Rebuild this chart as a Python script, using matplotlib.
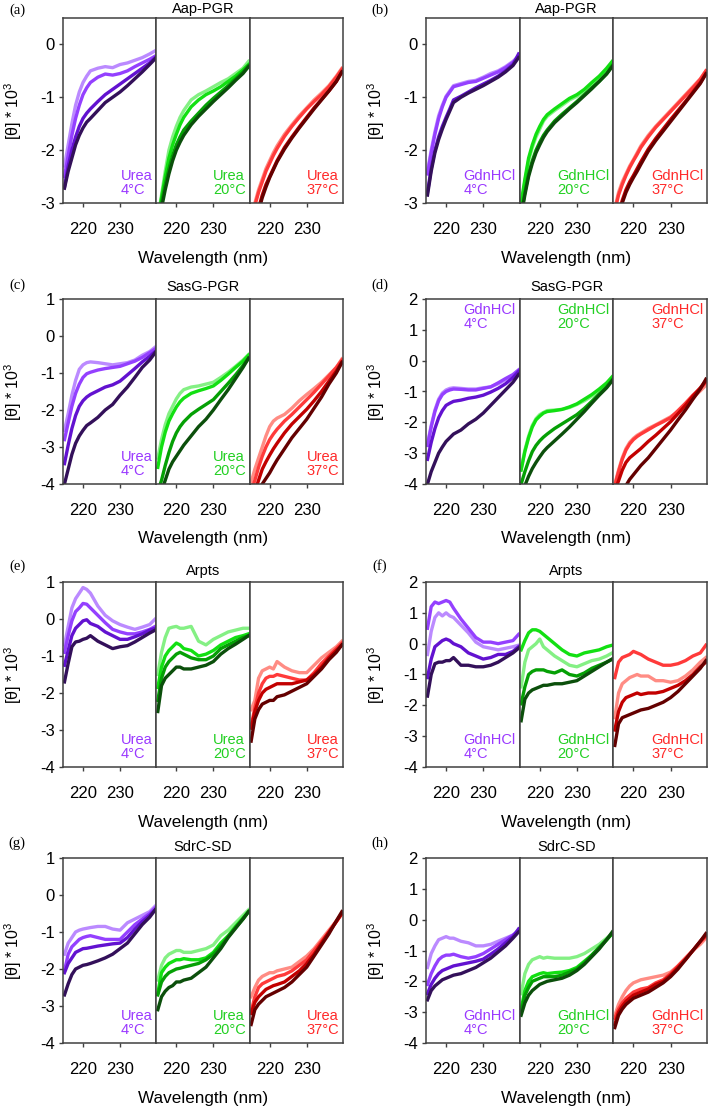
import matplotlib

matplotlib.use("Agg")
import matplotlib.pyplot as plt

plt.rcParams["font.family"] = ["Liberation Sans", "DejaVu Sans"]
plt.rcParams["mathtext.fontset"] = "custom"
plt.rcParams["mathtext.rm"] = "Liberation Sans"
plt.rcParams["mathtext.it"] = "Liberation Sans:italic"
plt.rcParams["axes.unicode_minus"] = False

# wavelength grid (nm) shared by every trace
WL = [215, 216, 217, 218, 219, 220, 221, 222, 224, 226, 228, 230, 232, 234, 236, 238, 239.5]
TEMPS = ["4°C", "20°C", "37°C"]

# each entry: [lightest, bright, medium, darkest] trace, values in [θ]*10^3
AAP_UREA_4 = [
    [-2.3, -1.9, -1.5, -1.15, -0.9, -0.72, -0.6, -0.5, -0.45, -0.42, -0.44, -0.38, -0.35, -0.3, -0.25, -0.18, -0.12],
    [-2.5, -2.1, -1.72, -1.4, -1.15, -0.95, -0.82, -0.72, -0.62, -0.56, -0.58, -0.55, -0.5, -0.42, -0.35, -0.28, -0.22],
    [-2.7, -2.3, -2.0, -1.75, -1.55, -1.4, -1.3, -1.22, -1.08, -0.95, -0.85, -0.75, -0.65, -0.55, -0.45, -0.35, -0.25],
    [-2.72, -2.4, -2.15, -1.9, -1.72, -1.58, -1.47, -1.4, -1.25, -1.1, -1.0, -0.9, -0.78, -0.65, -0.52, -0.38, -0.27],
]
AAP_UREA_20 = [
    [-3.3, -2.85, -2.4, -2.0, -1.75, -1.55, -1.38, -1.25, -1.05, -0.95, -0.88, -0.8, -0.72, -0.65, -0.55, -0.45, -0.32],
    [-3.3, -2.9, -2.5, -2.15, -1.9, -1.7, -1.52, -1.38, -1.18, -1.05, -0.95, -0.88, -0.8, -0.7, -0.6, -0.48, -0.38],
    [-3.4, -3.0, -2.65, -2.35, -2.1, -1.9, -1.75, -1.62, -1.45, -1.3, -1.15, -1.02, -0.9, -0.78, -0.65, -0.52, -0.4],
    [-3.5, -3.1, -2.75, -2.45, -2.2, -2.0, -1.85, -1.72, -1.52, -1.36, -1.22, -1.08, -0.95, -0.82, -0.68, -0.55, -0.42],
]
AAP_UREA_37 = [
    [-3.4, -3.0, -2.75, -2.55, -2.35, -2.2, -2.05, -1.92, -1.7, -1.52, -1.35, -1.2, -1.05, -0.92, -0.78, -0.6, -0.45],
    [-3.4, -3.05, -2.8, -2.6, -2.4, -2.25, -2.1, -1.97, -1.74, -1.55, -1.38, -1.22, -1.08, -0.95, -0.8, -0.62, -0.47],
    [-3.8, -3.4, -3.1, -2.85, -2.65, -2.5, -2.35, -2.2, -1.95, -1.75, -1.56, -1.38, -1.2, -1.04, -0.88, -0.7, -0.52],
    [-3.85, -3.45, -3.15, -2.9, -2.7, -2.52, -2.37, -2.22, -1.98, -1.77, -1.58, -1.4, -1.22, -1.05, -0.88, -0.7, -0.52],
]

AAP_GDN_4 = [
    [-2.4, -2.0, -1.65, -1.35, -1.15, -0.98, -0.88, -0.78, -0.74, -0.7, -0.68, -0.62, -0.55, -0.5, -0.42, -0.32, -0.22],
    [-2.45, -2.05, -1.7, -1.4, -1.18, -1.0, -0.9, -0.8, -0.76, -0.72, -0.7, -0.64, -0.58, -0.52, -0.44, -0.34, -0.24],
    [-2.8, -2.35, -2.0, -1.75, -1.55, -1.38, -1.22, -1.05, -0.98, -0.9, -0.82, -0.75, -0.68, -0.6, -0.5, -0.38, -0.18],
    [-2.85, -2.4, -2.05, -1.8, -1.6, -1.42, -1.26, -1.1, -1.0, -0.92, -0.85, -0.78, -0.7, -0.62, -0.52, -0.4, -0.25],
]
AAP_GDN_20 = [
    [-3.05, -2.6, -2.2, -1.95, -1.75, -1.6, -1.45, -1.36, -1.25, -1.15, -1.05, -0.98, -0.88, -0.78, -0.65, -0.5, -0.38],
    [-3.0, -2.55, -2.15, -1.9, -1.7, -1.55, -1.42, -1.33, -1.22, -1.12, -1.02, -0.95, -0.85, -0.72, -0.6, -0.45, -0.32],
    [-3.2, -2.8, -2.45, -2.2, -2.0, -1.85, -1.72, -1.62, -1.45, -1.32, -1.2, -1.08, -0.95, -0.82, -0.7, -0.55, -0.4],
    [-3.25, -2.85, -2.5, -2.25, -2.05, -1.9, -1.76, -1.65, -1.48, -1.35, -1.22, -1.1, -0.97, -0.84, -0.7, -0.56, -0.42],
]
AAP_GDN_37 = [
    [-3.1, -2.8, -2.6, -2.45, -2.3, -2.18, -2.05, -1.92, -1.72, -1.55, -1.4, -1.25, -1.1, -0.95, -0.8, -0.65, -0.5],
    [-3.15, -2.85, -2.65, -2.48, -2.33, -2.2, -2.08, -1.95, -1.75, -1.57, -1.42, -1.27, -1.12, -0.97, -0.82, -0.66, -0.5],
    [-3.6, -3.2, -2.95, -2.75, -2.6, -2.48, -2.35, -2.22, -1.98, -1.78, -1.6, -1.42, -1.25, -1.08, -0.9, -0.72, -0.55],
    [-3.7, -3.3, -3.0, -2.8, -2.65, -2.52, -2.4, -2.27, -2.02, -1.82, -1.64, -1.46, -1.28, -1.1, -0.92, -0.74, -0.56],
]

SASG_UREA_4 = [
    [-2.55, -2.1, -1.6, -1.2, -0.9, -0.78, -0.72, -0.7, -0.72, -0.75, -0.78, -0.75, -0.72, -0.65, -0.52, -0.42, -0.3],
    [-2.8, -2.35, -1.9, -1.55, -1.3, -1.12, -1.02, -0.98, -0.92, -0.88, -0.85, -0.82, -0.75, -0.68, -0.58, -0.45, -0.35],
    [-3.45, -2.95, -2.5, -2.15, -1.9, -1.75, -1.65, -1.58, -1.48, -1.38, -1.32, -1.22, -1.05, -0.88, -0.7, -0.55, -0.42],
    [-4.0, -3.6, -3.2, -2.9, -2.7, -2.55, -2.42, -2.35, -2.2, -2.0, -1.85, -1.6, -1.38, -1.12, -0.85, -0.65, -0.45],
]
SASG_UREA_20 = [
    [-3.3, -2.8, -2.4, -2.1, -1.9, -1.7, -1.55, -1.45, -1.38, -1.35, -1.3, -1.25, -1.12, -0.98, -0.82, -0.65, -0.5],
    [-3.55, -3.0, -2.6, -2.3, -2.1, -1.92, -1.78, -1.68, -1.55, -1.48, -1.42, -1.35, -1.2, -1.03, -0.85, -0.68, -0.52],
    [-4.2, -3.9, -3.5, -3.15, -2.85, -2.62, -2.45, -2.32, -2.12, -1.98, -1.85, -1.72, -1.5, -1.28, -1.05, -0.8, -0.6],
    [-4.5, -4.2, -3.9, -3.6, -3.4, -3.25, -3.1, -2.95, -2.7, -2.45, -2.25, -2.0, -1.72, -1.45, -1.15, -0.85, -0.6],
]
SASG_UREA_37 = [
    [-3.95, -3.6, -3.3, -3.0, -2.7, -2.45, -2.3, -2.22, -2.12, -1.95, -1.75, -1.58, -1.42, -1.25, -1.05, -0.85, -0.62],
    [-4.2, -3.9, -3.55, -3.25, -3.0, -2.8, -2.65, -2.52, -2.3, -2.12, -1.92, -1.72, -1.52, -1.3, -1.08, -0.85, -0.65],
    [-4.5, -4.2, -3.9, -3.6, -3.4, -3.22, -3.05, -2.9, -2.62, -2.38, -2.18, -1.98, -1.75, -1.5, -1.22, -0.95, -0.7],
    [-4.7, -4.5, -4.25, -4.0, -3.85, -3.7, -3.52, -3.35, -3.05, -2.75, -2.5, -2.25, -1.95, -1.65, -1.3, -1.0, -0.72],
]

SASG_GDN_4 = [
    [-2.7, -2.1, -1.6, -1.25, -1.05, -0.95, -0.9, -0.88, -0.9, -0.92, -0.92, -0.88, -0.85, -0.75, -0.62, -0.5, -0.4],
    [-2.75, -2.15, -1.65, -1.3, -1.1, -1.0, -0.95, -0.92, -0.93, -0.95, -0.95, -0.9, -0.85, -0.72, -0.58, -0.45, -0.3],
    [-3.2, -2.65, -2.2, -1.85, -1.62, -1.45, -1.38, -1.32, -1.28, -1.22, -1.18, -1.12, -1.02, -0.9, -0.75, -0.55, -0.35],
    [-4.0, -3.6, -3.3, -3.0, -2.8, -2.62, -2.5, -2.38, -2.25, -2.05, -1.9, -1.7, -1.45, -1.2, -0.95, -0.7, -0.45],
]
SASG_GDN_20 = [
    [-3.5, -2.9, -2.45, -2.1, -1.88, -1.75, -1.68, -1.62, -1.6, -1.58, -1.52, -1.42, -1.3, -1.15, -0.98, -0.8, -0.6],
    [-3.55, -2.95, -2.5, -2.15, -1.92, -1.8, -1.7, -1.65, -1.62, -1.58, -1.5, -1.4, -1.25, -1.1, -0.92, -0.72, -0.52],
    [-4.0, -3.6, -3.25, -2.95, -2.75, -2.6, -2.48, -2.38, -2.2, -2.05, -1.9, -1.75, -1.55, -1.32, -1.08, -0.85, -0.62],
    [-4.4, -4.05, -3.75, -3.5, -3.3, -3.12, -2.95, -2.82, -2.6, -2.38, -2.15, -1.9, -1.65, -1.38, -1.12, -0.88, -0.65],
]
SASG_GDN_37 = [
    [-4.0, -3.55, -3.15, -2.85, -2.65, -2.52, -2.42, -2.35, -2.2, -2.08, -1.95, -1.82, -1.65, -1.45, -1.2, -0.98, -0.8],
    [-4.05, -3.6, -3.2, -2.9, -2.7, -2.56, -2.46, -2.38, -2.24, -2.1, -1.98, -1.85, -1.62, -1.38, -1.12, -0.9, -0.7],
    [-4.2, -3.9, -3.55, -3.3, -3.15, -3.05, -2.95, -2.85, -2.62, -2.42, -2.2, -1.98, -1.72, -1.45, -1.15, -0.88, -0.65],
    [-4.8, -4.5, -4.25, -4.05, -3.85, -3.7, -3.55, -3.4, -3.15, -2.85, -2.55, -2.25, -1.92, -1.6, -1.25, -0.92, -0.6],
]

ARPTS_UREA_4 = [
    [-0.7, -0.2, 0.3, 0.55, 0.7, 0.85, 0.8, 0.7, 0.35, 0.1, -0.05, -0.15, -0.22, -0.28, -0.22, -0.15, 0.0],
    [-0.9, -0.45, -0.05, 0.2, 0.3, 0.42, 0.4, 0.3, 0.1, -0.1, -0.28, -0.35, -0.4, -0.4, -0.35, -0.28, -0.2],
    [-1.25, -0.85, -0.45, -0.25, -0.15, -0.05, -0.02, -0.12, -0.2, -0.35, -0.45, -0.55, -0.55, -0.48, -0.4, -0.3, -0.25],
    [-1.7, -1.2, -0.75, -0.62, -0.6, -0.55, -0.52, -0.45, -0.6, -0.7, -0.8, -0.75, -0.72, -0.62, -0.5, -0.38, -0.3],
]
ARPTS_UREA_20 = [
    [-1.5, -0.9, -0.5, -0.25, -0.22, -0.2, -0.25, -0.25, -0.2, -0.6, -0.7, -0.55, -0.45, -0.35, -0.3, -0.25, -0.25],
    [-1.85, -1.3, -1.0, -0.85, -0.75, -0.65, -0.7, -0.8, -0.85, -1.0, -0.95, -0.85, -0.7, -0.6, -0.5, -0.45, -0.4],
    [-2.2, -1.6, -1.3, -1.15, -1.05, -0.95, -0.9, -0.95, -1.05, -1.1, -1.1, -1.0, -0.8, -0.7, -0.6, -0.5, -0.45],
    [-2.5, -1.8, -1.6, -1.5, -1.4, -1.3, -1.3, -1.35, -1.35, -1.3, -1.25, -1.15, -0.95, -0.8, -0.68, -0.55, -0.45],
]
ARPTS_UREA_37 = [
    [-2.45, -2.2, -1.6, -1.4, -1.35, -1.3, -1.35, -1.15, -1.3, -1.4, -1.45, -1.45, -1.25, -1.05, -0.9, -0.75, -0.6],
    [-2.9, -2.4, -2.0, -1.75, -1.6, -1.55, -1.55, -1.5, -1.55, -1.6, -1.65, -1.65, -1.45, -1.2, -1.0, -0.8, -0.65],
    [-2.95, -2.5, -2.2, -2.0, -1.9, -1.85, -1.8, -1.75, -1.75, -1.75, -1.7, -1.65, -1.5, -1.3, -1.05, -0.85, -0.7],
    [-3.3, -2.7, -2.45, -2.3, -2.25, -2.2, -2.2, -2.1, -2.05, -1.95, -1.85, -1.75, -1.55, -1.35, -1.1, -0.9, -0.7],
]

ARPTS_GDN_4 = [
    [-0.35, 0.4, 0.85, 1.0, 0.9, 1.0, 0.9, 0.85, 0.6, 0.35, 0.05, -0.1, -0.15, -0.2, -0.15, -0.1, -0.05],
    [0.5, 1.2, 1.35, 1.3, 1.35, 1.4, 1.35, 1.15, 0.8, 0.5, 0.2, 0.05, 0.05, 0.0, 0.05, 0.1, 0.3],
    [-1.1, -0.5, -0.1, 0.0, 0.1, 0.15, 0.1, 0.0, -0.1, -0.3, -0.4, -0.5, -0.45, -0.35, -0.35, -0.25, -0.1],
    [-1.7, -1.0, -0.65, -0.6, -0.6, -0.55, -0.55, -0.45, -0.7, -0.7, -0.75, -0.75, -0.7, -0.6, -0.45, -0.3, -0.15],
]
ARPTS_GDN_20 = [
    [-1.4, -0.6, -0.2, -0.1, 0.0, 0.15, -0.1, -0.2, -0.4, -0.55, -0.7, -0.75, -0.65, -0.55, -0.5, -0.4, -0.3],
    [-0.2, 0.1, 0.35, 0.45, 0.45, 0.4, 0.3, 0.2, 0.0, -0.2, -0.35, -0.4, -0.3, -0.25, -0.2, -0.1, -0.05],
    [-1.95, -1.4, -1.0, -0.9, -0.85, -0.85, -0.85, -0.9, -0.95, -0.85, -1.0, -1.05, -0.95, -0.8, -0.7, -0.6, -0.5],
    [-2.5, -1.8, -1.6, -1.5, -1.45, -1.4, -1.35, -1.35, -1.3, -1.3, -1.25, -1.2, -1.05, -0.9, -0.75, -0.6, -0.5],
]
ARPTS_GDN_37 = [
    [-2.4, -1.6, -1.3, -1.2, -1.1, -1.05, -1.0, -1.05, -1.05, -1.2, -1.2, -1.25, -1.2, -1.05, -0.85, -0.6, -0.45],
    [-1.1, -0.6, -0.45, -0.4, -0.35, -0.25, -0.3, -0.35, -0.5, -0.6, -0.7, -0.7, -0.65, -0.55, -0.4, -0.3, -0.05],
    [-2.8, -2.2, -1.9, -1.75, -1.7, -1.65, -1.6, -1.65, -1.6, -1.6, -1.55, -1.45, -1.35, -1.2, -1.0, -0.75, -0.6],
    [-3.3, -2.6, -2.4, -2.35, -2.3, -2.25, -2.2, -2.15, -2.1, -2.0, -1.9, -1.75, -1.55, -1.3, -1.05, -0.8, -0.55],
]

SDRC_UREA_4 = [
    [-1.6, -1.3, -1.15, -1.0, -0.95, -0.92, -0.9, -0.88, -0.85, -0.85, -0.92, -0.95, -0.75, -0.65, -0.55, -0.45, -0.3],
    [-2.05, -1.6, -1.4, -1.3, -1.2, -1.15, -1.12, -1.1, -1.15, -1.2, -1.2, -1.2, -1.0, -0.8, -0.65, -0.5, -0.35],
    [-2.1, -1.85, -1.7, -1.55, -1.5, -1.45, -1.44, -1.42, -1.38, -1.35, -1.32, -1.3, -1.15, -0.92, -0.72, -0.55, -0.4],
    [-2.7, -2.4, -2.15, -2.0, -1.95, -1.9, -1.88, -1.85, -1.78, -1.7, -1.6, -1.45, -1.3, -1.05, -0.8, -0.6, -0.4],
]
SDRC_UREA_20 = [
    [-2.3, -1.9, -1.7, -1.6, -1.55, -1.5, -1.5, -1.55, -1.55, -1.5, -1.45, -1.35, -1.1, -0.95, -0.75, -0.55, -0.4],
    [-2.65, -2.1, -1.95, -1.85, -1.8, -1.75, -1.75, -1.72, -1.75, -1.75, -1.7, -1.55, -1.3, -1.1, -0.85, -0.62, -0.45],
    [-2.7, -2.35, -2.2, -2.1, -2.05, -2.0, -1.98, -1.95, -1.9, -1.85, -1.75, -1.6, -1.38, -1.12, -0.88, -0.65, -0.45],
    [-3.1, -2.75, -2.6, -2.5, -2.45, -2.35, -2.35, -2.3, -2.25, -2.1, -1.95, -1.7, -1.45, -1.15, -0.9, -0.65, -0.45],
]
SDRC_UREA_37 = [
    [-2.75, -2.5, -2.3, -2.2, -2.15, -2.1, -2.1, -2.05, -2.0, -1.95, -1.8, -1.65, -1.45, -1.2, -0.95, -0.7, -0.5],
    [-3.15, -2.75, -2.5, -2.4, -2.35, -2.3, -2.25, -2.2, -2.15, -2.05, -1.9, -1.75, -1.5, -1.25, -1.0, -0.72, -0.5],
    [-3.2, -2.9, -2.75, -2.65, -2.55, -2.5, -2.45, -2.42, -2.35, -2.2, -2.05, -1.85, -1.6, -1.3, -1.0, -0.72, -0.5],
    [-3.5, -3.1, -2.95, -2.85, -2.75, -2.7, -2.65, -2.6, -2.5, -2.35, -2.15, -1.95, -1.65, -1.35, -1.05, -0.7, -0.45],
]

SDRC_GDN_4 = [
    [-1.55, -1.1, -0.85, -0.65, -0.6, -0.55, -0.6, -0.6, -0.7, -0.75, -0.85, -0.85, -0.8, -0.7, -0.6, -0.5, -0.4],
    [-2.1, -1.75, -1.5, -1.3, -1.2, -1.15, -1.15, -1.12, -1.2, -1.25, -1.2, -1.1, -0.95, -0.8, -0.65, -0.5, -0.35],
    [-2.4, -2.1, -1.9, -1.75, -1.65, -1.6, -1.55, -1.5, -1.45, -1.4, -1.35, -1.28, -1.12, -0.95, -0.75, -0.55, -0.3],
    [-2.6, -2.3, -2.15, -2.05, -1.95, -1.9, -1.85, -1.8, -1.75, -1.65, -1.55, -1.4, -1.25, -1.05, -0.85, -0.6, -0.4],
]
SDRC_GDN_20 = [
    [-2.4, -1.75, -1.45, -1.3, -1.25, -1.2, -1.25, -1.22, -1.25, -1.25, -1.25, -1.2, -1.1, -0.95, -0.8, -0.6, -0.45],
    [-2.9, -2.3, -2.0, -1.85, -1.8, -1.75, -1.72, -1.75, -1.72, -1.7, -1.65, -1.55, -1.35, -1.15, -0.9, -0.65, -0.45],
    [-3.0, -2.45, -2.2, -2.0, -1.95, -1.9, -1.85, -1.85, -1.85, -1.8, -1.7, -1.6, -1.4, -1.15, -0.9, -0.65, -0.45],
    [-3.1, -2.7, -2.45, -2.3, -2.2, -2.1, -2.05, -2.0, -1.95, -1.9, -1.8, -1.65, -1.45, -1.2, -0.95, -0.65, -0.4],
]
SDRC_GDN_37 = [
    [-3.1, -2.75, -2.5, -2.3, -2.15, -2.05, -2.0, -1.95, -1.9, -1.85, -1.8, -1.7, -1.5, -1.25, -1.0, -0.8, -0.6],
    [-3.2, -2.9, -2.7, -2.55, -2.45, -2.35, -2.3, -2.25, -2.2, -2.05, -1.95, -1.75, -1.5, -1.25, -1.0, -0.72, -0.55],
    [-3.4, -3.0, -2.8, -2.65, -2.55, -2.45, -2.4, -2.35, -2.25, -2.1, -2.0, -1.8, -1.55, -1.3, -1.0, -0.7, -0.5],
    [-3.5, -3.1, -2.9, -2.75, -2.65, -2.55, -2.5, -2.45, -2.35, -2.2, -2.05, -1.85, -1.6, -1.3, -1.0, -0.7, -0.45],
]

PURPLES = ["#bb8aff", "#9440ff", "#6212d0", "#33105a"]
GREENS = ["#84f084", "#12e012", "#05a005", "#0b4f0b"]
REDS = ["#ff8c84", "#ff3a3a", "#c20000", "#640000"]
TEXT_COLORS = ["#9a38ff", "#22d022", "#ff2a2a"]
FRAME = "#404040"

W, H = 709, 1108
fig = plt.figure(figsize=(W / 100, H / 100), dpi=100)

# pixel layout: columns (left, width), rows (top), panel height
COLS = [(63, 280), (426, 281)]
ROWS = [18, 299, 582, 858]
PH = 185
LABEL_Y = [10, 285, 566, 843]
TITLE_Y = [9, 287, 571, 847]

panels = [
    ("(a)", "Aap-PGR", "Urea", (AAP_UREA_4, AAP_UREA_20, AAP_UREA_37), (-3, 0.5), [-3, -2, -1, 0], "bottom"),
    ("(b)", "Aap-PGR", "GdnHCl", (AAP_GDN_4, AAP_GDN_20, AAP_GDN_37), (-3, 0.5), [-3, -2, -1, 0], "bottom"),
    ("(c)", "SasG-PGR", "Urea", (SASG_UREA_4, SASG_UREA_20, SASG_UREA_37), (-4, 1), [-4, -3, -2, -1, 0, 1], "bottom"),
    ("(d)", "SasG-PGR", "GdnHCl", (SASG_GDN_4, SASG_GDN_20, SASG_GDN_37), (-4, 2), [-4, -3, -2, -1, 0, 1, 2], "top"),
    ("(e)", "Arpts", "Urea", (ARPTS_UREA_4, ARPTS_UREA_20, ARPTS_UREA_37), (-4, 1), [-4, -3, -2, -1, 0, 1], "bottom"),
    ("(f)", "Arpts", "GdnHCl", (ARPTS_GDN_4, ARPTS_GDN_20, ARPTS_GDN_37), (-4, 2), [-4, -3, -2, -1, 0, 1, 2], "bottom"),
    ("(g)", "SdrC-SD", "Urea", (SDRC_UREA_4, SDRC_UREA_20, SDRC_UREA_37), (-4, 1), [-4, -3, -2, -1, 0, 1], "bottom"),
    ("(h)", "SdrC-SD", "GdnHCl", (SDRC_GDN_4, SDRC_GDN_20, SDRC_GDN_37), (-4, 2), [-4, -3, -2, -1, 0, 1, 2], "bottom"),
]

for idx, (tag, title, reagent, sets, ylim, yticks, where) in enumerate(panels):
    row, col = divmod(idx, 2)
    x0, pw = COLS[col]
    top = ROWS[row]
    sw = pw / 3
    for k, (traces, temp, pal) in enumerate(zip(sets, TEMPS, (PURPLES, GREENS, REDS))):
        left = x0 + k * sw
        ax = fig.add_axes([left / W, 1 - (top + PH) / H, sw / W, PH / H])
        for y, c in zip(traces, pal):
            ax.plot(WL, y, color=c, lw=2.4, solid_joinstyle="round")
        ax.set_xlim(214.6, 239.8)
        ax.set_ylim(*ylim)
        ax.set_xticks([220, 230])
        ax.tick_params(axis="x", direction="out", length=3, width=1, color=FRAME,
                       labelsize=12, pad=11)
        if k == 0:
            ax.set_yticks(yticks)
            ax.tick_params(axis="y", direction="out", length=3, width=1, color=FRAME,
                           labelsize=12, pad=3)
        else:
            ax.set_yticks([])
        for sp in ax.spines.values():
            sp.set_color(FRAME)
            sp.set_linewidth(1.1)
        if where == "bottom":
            ax.text(0.96, 0.03, f"{reagent}\n{temp}", transform=ax.transAxes, ha="right",
                    va="bottom", multialignment="left", color=TEXT_COLORS[k], fontsize=10.5,
                    linespacing=1.0)
        else:
            ax.text(0.96, 0.98, f"{reagent}\n{temp}", transform=ax.transAxes, ha="right",
                    va="top", multialignment="left", color=TEXT_COLORS[k], fontsize=10.5,
                    linespacing=1.0)

    cx = (x0 + pw / 2) / W
    fig.text(cx, 1 - TITLE_Y[row] / H, title, ha="center", va="center", fontsize=10.5)
    fig.text(cx, 1 - (top + PH + 55) / H, "Wavelength (nm)", ha="center", va="center",
             fontsize=12.3)
    fig.text((x0 - 50) / W, 1 - (top + PH / 2) / H, r"[θ] * 10$^{3}$", rotation=90,
             ha="center", va="center", fontsize=11.5)
    fig.text((x0 - 46) / W, 1 - LABEL_Y[row] / H, tag, ha="center", va="center",
             fontsize=10.5, family=["Liberation Serif", "DejaVu Serif"])

fig.savefig("out.png", dpi=100)
